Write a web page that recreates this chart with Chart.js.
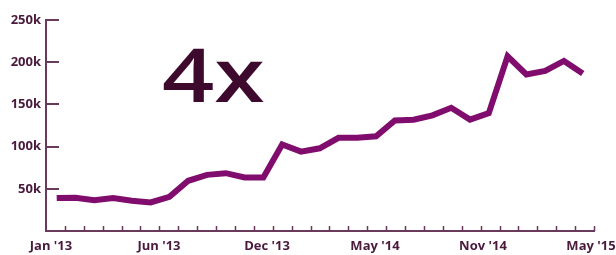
<!DOCTYPE html>
<html>
<head>
<meta charset="utf-8">
<script src="https://cdn.jsdelivr.net/npm/chart.js@4.4.1/dist/chart.umd.min.js"></script>
<style>
    html, body { margin: 0; padding: 0; background: #ffffff; }
    #wrap { width: 616px; height: 255px; }
</style>
</head>
<body>
<div id="wrap"><canvas id="growthChart" width="616" height="255"></canvas></div>
<script>
// monthly values, Jan '13 .. May '15
const months = [
    "Jan '13", "Feb '13", "Mar '13", "Apr '13", "May '13", "Jun '13", "Jul '13", "Aug '13",
    "Sep '13", "Oct '13", "Nov '13", "Dec '13", "Jan '14", "Feb '14", "Mar '14", "Apr '14",
    "May '14", "Jun '14", "Jul '14", "Aug '14", "Sep '14", "Oct '14", "Nov '14", "Dec '14",
    "Jan '15", "Feb '15", "Mar '15", "Apr '15", "May '15"
];
const values = [
    39000, 39500, 36500, 39000, 35800, 33800, 40500, 59500,
    66500, 68500, 63500, 63500, 102500, 94000, 98000, 110400,
    110400, 112300, 131000, 131800, 137000, 146000, 132000, 139600,
    207000, 185400, 189600, 201500, 186500
];
const axisLabels = ["Jan '13", "Jun '13", "Dec '13", "May '14", "Nov '14", "May '15"];
const yTicks = [50000, 100000, 150000, 200000, 250000];
const headline = '4x';

const AXIS_COLOR = '#6a3a5c';
const LABEL_COLOR = '#4a1a3d';
const LINE_COLOR = '#800d6d';

class GrowthChart {
    constructor() {
        this.chart = null;
    }

    // tick marks drawn inside the plot, like the original
    innerTicksPlugin() {
        return {
            id: 'innerTicks',
            afterDraw(chart) {
                const ctx = chart.ctx;
                const y = chart.scales.y;
                const minor = chart.scales.minor;
                const area = chart.chartArea;
                ctx.save();
                ctx.strokeStyle = AXIS_COLOR;
                ctx.lineWidth = 2;
                ctx.beginPath();
                y.ticks.forEach(t => {
                    const py = Math.round(y.getPixelForValue(t.value));
                    ctx.moveTo(area.left, py);
                    ctx.lineTo(area.left + 13, py);
                });
                ctx.stroke();

                ctx.lineWidth = 1.5;
                ctx.beginPath();
                for (let k = 1; k <= months.length; k++) {
                    const px = Math.round(minor.getPixelForValue(k)) + 0.5;
                    ctx.moveTo(px, area.bottom);
                    ctx.lineTo(px, area.bottom - 5);
                }
                ctx.stroke();
                ctx.restore();
            }
        };
    }

    headlinePlugin() {
        return {
            id: 'headline',
            afterDraw(chart) {
                const ctx = chart.ctx;
                ctx.save();
                ctx.fillStyle = '#3d0a2e';
                ctx.font = '600 75px "Open Sans"';
                ctx.textBaseline = 'alphabetic';
                // the original face is wider than Open Sans
                ctx.translate(162, 102);
                ctx.scale(1.22, 1);
                ctx.fillText(headline, 0, 0);
                ctx.restore();
            }
        };
    }

    init() {
        const ctx = document.getElementById('growthChart');
        const points = values.map((v, i) => ({ x: i, y: v }));

        this.chart = new Chart(ctx, {
            type: 'line',
            data: {
                datasets: [{
                    label: 'Growth',
                    data: points,
                    borderColor: LINE_COLOR,
                    borderWidth: 6,
                    tension: 0,
                    pointRadius: 0,
                    fill: false,
                    xAxisID: 'x',
                    yAxisID: 'y'
                }]
            },
            plugins: [this.innerTicksPlugin(), this.headlinePlugin()],
            options: {
                responsive: false,
                animation: false,
                layout: { padding: { top: 20, right: 22, left: 0, bottom: 0 } },
                plugins: {
                    legend: { display: false },
                    tooltip: { enabled: false }
                },
                scales: {
                    x: {
                        type: 'linear',
                        display: false,
                        min: -0.57,
                        max: 28.6
                    },
                    minor: {
                        type: 'linear',
                        position: 'bottom',
                        display: false,
                        min: 0,
                        max: months.length
                    },
                    xAxis: {
                        type: 'linear',
                        position: 'bottom',
                        min: -0.046,
                        max: 5.028,
                        afterBuildTicks: s => { s.ticks = axisLabels.map((_, i) => ({ value: i })); },
                        afterFit: s => { s.height = 24; s.paddingLeft = 0; s.paddingRight = 0; },
                        border: { display: true, color: AXIS_COLOR, width: 2 },
                        grid: { display: true, drawOnChartArea: false, drawTicks: false },
                        ticks: {
                            autoSkip: false,
                            maxRotation: 0,
                            padding: 7,
                            color: LABEL_COLOR,
                            font: { family: '"Open Sans"', size: 13, weight: 'bold' },
                            callback: v => axisLabels[Math.round(v)]
                        }
                    },
                    y: {
                        type: 'linear',
                        min: 0,
                        max: 250000,
                        afterBuildTicks: s => { s.ticks = yTicks.map(v => ({ value: v })); },
                        afterFit: s => { s.width = 46; s.paddingTop = 0; s.paddingBottom = 0; },
                        border: { display: true, color: AXIS_COLOR, width: 2 },
                        grid: { display: true, drawOnChartArea: false, drawTicks: false },
                        ticks: {
                            padding: 5,
                            color: LABEL_COLOR,
                            font: { family: '"Open Sans"', size: 13, weight: 'bold' },
                            callback: v => (v / 1000) + 'k'
                        }
                    }
                }
            }
        });
    }
}

new GrowthChart().init();
</script>
</body>
</html>
